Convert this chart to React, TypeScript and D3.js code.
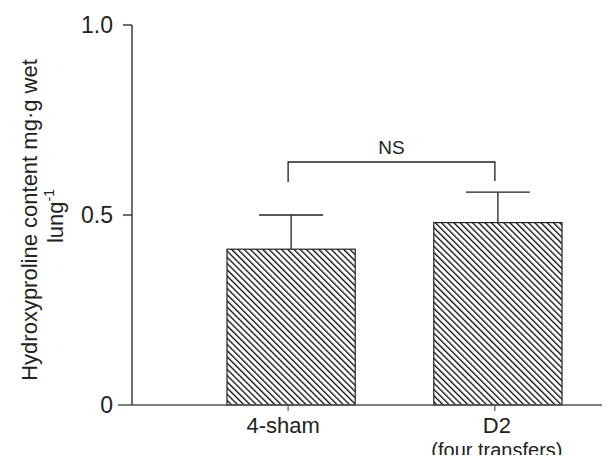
import { useEffect, useRef } from 'react';
import * as d3 from 'd3';

const groups = ['4-sham', 'D2'];
const subLabels = ['', '(four transfers)'];
const means = [0.41, 0.48];
const errors = [0.09, 0.08];
const yTicks = [0, 0.5, 1.0];
const sigLabel = 'NS';

const W = 610;
const H = 463;
const FONT = '"Liberation Sans", Arial, sans-serif';

export default function App() {
  const svgRef = useRef<SVGSVGElement>(null);

  useEffect(() => {
    if (!svgRef.current) return;
    const svg = d3.select(svgRef.current);
    svg.selectAll('*').remove();

    const axisX = 132;
    const y = d3.scaleLinear().domain([0, 1]).range([405, 25]);
    const x = d3.scaleBand().domain(groups).range([227, 562]).paddingInner(0.38).paddingOuter(0);

    // hatch pattern
    const defs = svg.append('defs');
    const pat = defs
      .append('pattern')
      .attr('id', 'hatch')
      .attr('patternUnits', 'userSpaceOnUse')
      .attr('width', 4.4)
      .attr('height', 4.4)
      .attr('patternTransform', 'rotate(-45)');
    pat.append('rect').attr('width', 4.4).attr('height', 4.4).attr('fill', '#fff');
    pat.append('line').attr('x1', 0).attr('y1', 0).attr('x2', 0).attr('y2', 4.4)
      .attr('stroke', '#000').attr('stroke-width', 2.5);

    // bars
    groups.forEach((g, i) => {
      const bx = x(g)!;
      const bw = x.bandwidth();
      const cx = bx + bw / 2;
      // error bar
      svg.append('line').attr('x1', cx).attr('x2', cx)
        .attr('y1', y(means[i])).attr('y2', y(means[i] + errors[i]))
        .attr('stroke', '#222').attr('stroke-width', 1.3);
      svg.append('line').attr('x1', cx - 32).attr('x2', cx + 32)
        .attr('y1', y(means[i] + errors[i])).attr('y2', y(means[i] + errors[i]))
        .attr('stroke', '#222').attr('stroke-width', 1.3);
      svg.append('rect')
        .attr('x', bx).attr('y', y(means[i]))
        .attr('width', bw).attr('height', y(0) - y(means[i]))
        .attr('fill', 'url(#hatch)')
        .attr('stroke', '#222').attr('stroke-width', 1.2);
    });

    // x axis
    svg.append('line').attr('x1', 118).attr('x2', W).attr('y1', y(0)).attr('y2', y(0))
      .attr('stroke', '#555').attr('stroke-width', 1.4);
    groups.forEach((g, i) => {
      const cx = x(g)! + x.bandwidth() / 2;
      svg.append('line').attr('x1', cx - 3).attr('x2', cx - 3).attr('y1', y(0)).attr('y2', y(0) + 6)
        .attr('stroke', '#555').attr('stroke-width', 1.2);
      svg.append('text').attr('x', cx - (i === 0 ? 8 : 1)).attr('y', 433)
        .attr('text-anchor', 'middle').attr('font-family', FONT).attr('font-size', 22)
        .attr('fill', '#222').text(g);
      if (subLabels[i]) {
        svg.append('text').attr('x', cx - 1).attr('y', 457)
          .attr('text-anchor', 'middle').attr('font-family', FONT).attr('font-size', 20)
          .attr('fill', '#222').text(subLabels[i]);
      }
    });

    // y axis
    svg.append('line').attr('x1', axisX).attr('x2', axisX).attr('y1', y(1)).attr('y2', y(0))
      .attr('stroke', '#222').attr('stroke-width', 1.3);
    yTicks.forEach((t) => {
      if (t > 0) {
        svg.append('line').attr('x1', axisX - 9).attr('x2', axisX).attr('y1', y(t)).attr('y2', y(t))
          .attr('stroke', '#222').attr('stroke-width', 1.3);
      }
      svg.append('text').attr('x', 113).attr('y', y(t) + 8)
        .attr('text-anchor', 'end').attr('font-family', FONT).attr('font-size', 23)
        .attr('fill', '#222').text(t === 0 ? '0' : d3.format('.1f')(t));
    });

    // y label
    svg.append('text')
      .attr('transform', 'translate(37,220) rotate(-90)')
      .attr('text-anchor', 'middle').attr('font-family', FONT).attr('font-size', 22)
      .attr('fill', '#222')
      .text('Hydroxyproline content mg·g wet');
    const l2 = svg.append('text')
      .attr('transform', 'translate(63,216) rotate(-90)')
      .attr('text-anchor', 'middle').attr('font-family', FONT).attr('font-size', 22)
      .attr('fill', '#222');
    l2.append('tspan').text('lung');
    l2.append('tspan').attr('dy', -9).attr('font-size', 14).text('-1');

    // significance bracket
    const c0 = x(groups[0])! + x.bandwidth() / 2 - 3;
    const c1 = x(groups[1])! + x.bandwidth() / 2 - 3;
    const by = 162;
    svg.append('path')
      .attr('d', `M${c0},${by + 20}V${by}H${c1}V${by + 19}`)
      .attr('fill', 'none').attr('stroke', '#222').attr('stroke-width', 1.3);
    svg.append('text').attr('x', (c0 + c1) / 2).attr('y', 154)
      .attr('text-anchor', 'middle').attr('font-family', FONT).attr('font-size', 19)
      .attr('fill', '#222').text(sigLabel);
  }, []);

  return (
    <div style={{ width: W, height: H, margin: -8, background: '#fff' }}>
      <svg ref={svgRef} width={W} height={H} style={{ display: 'block' }} />
    </div>
  );
}
